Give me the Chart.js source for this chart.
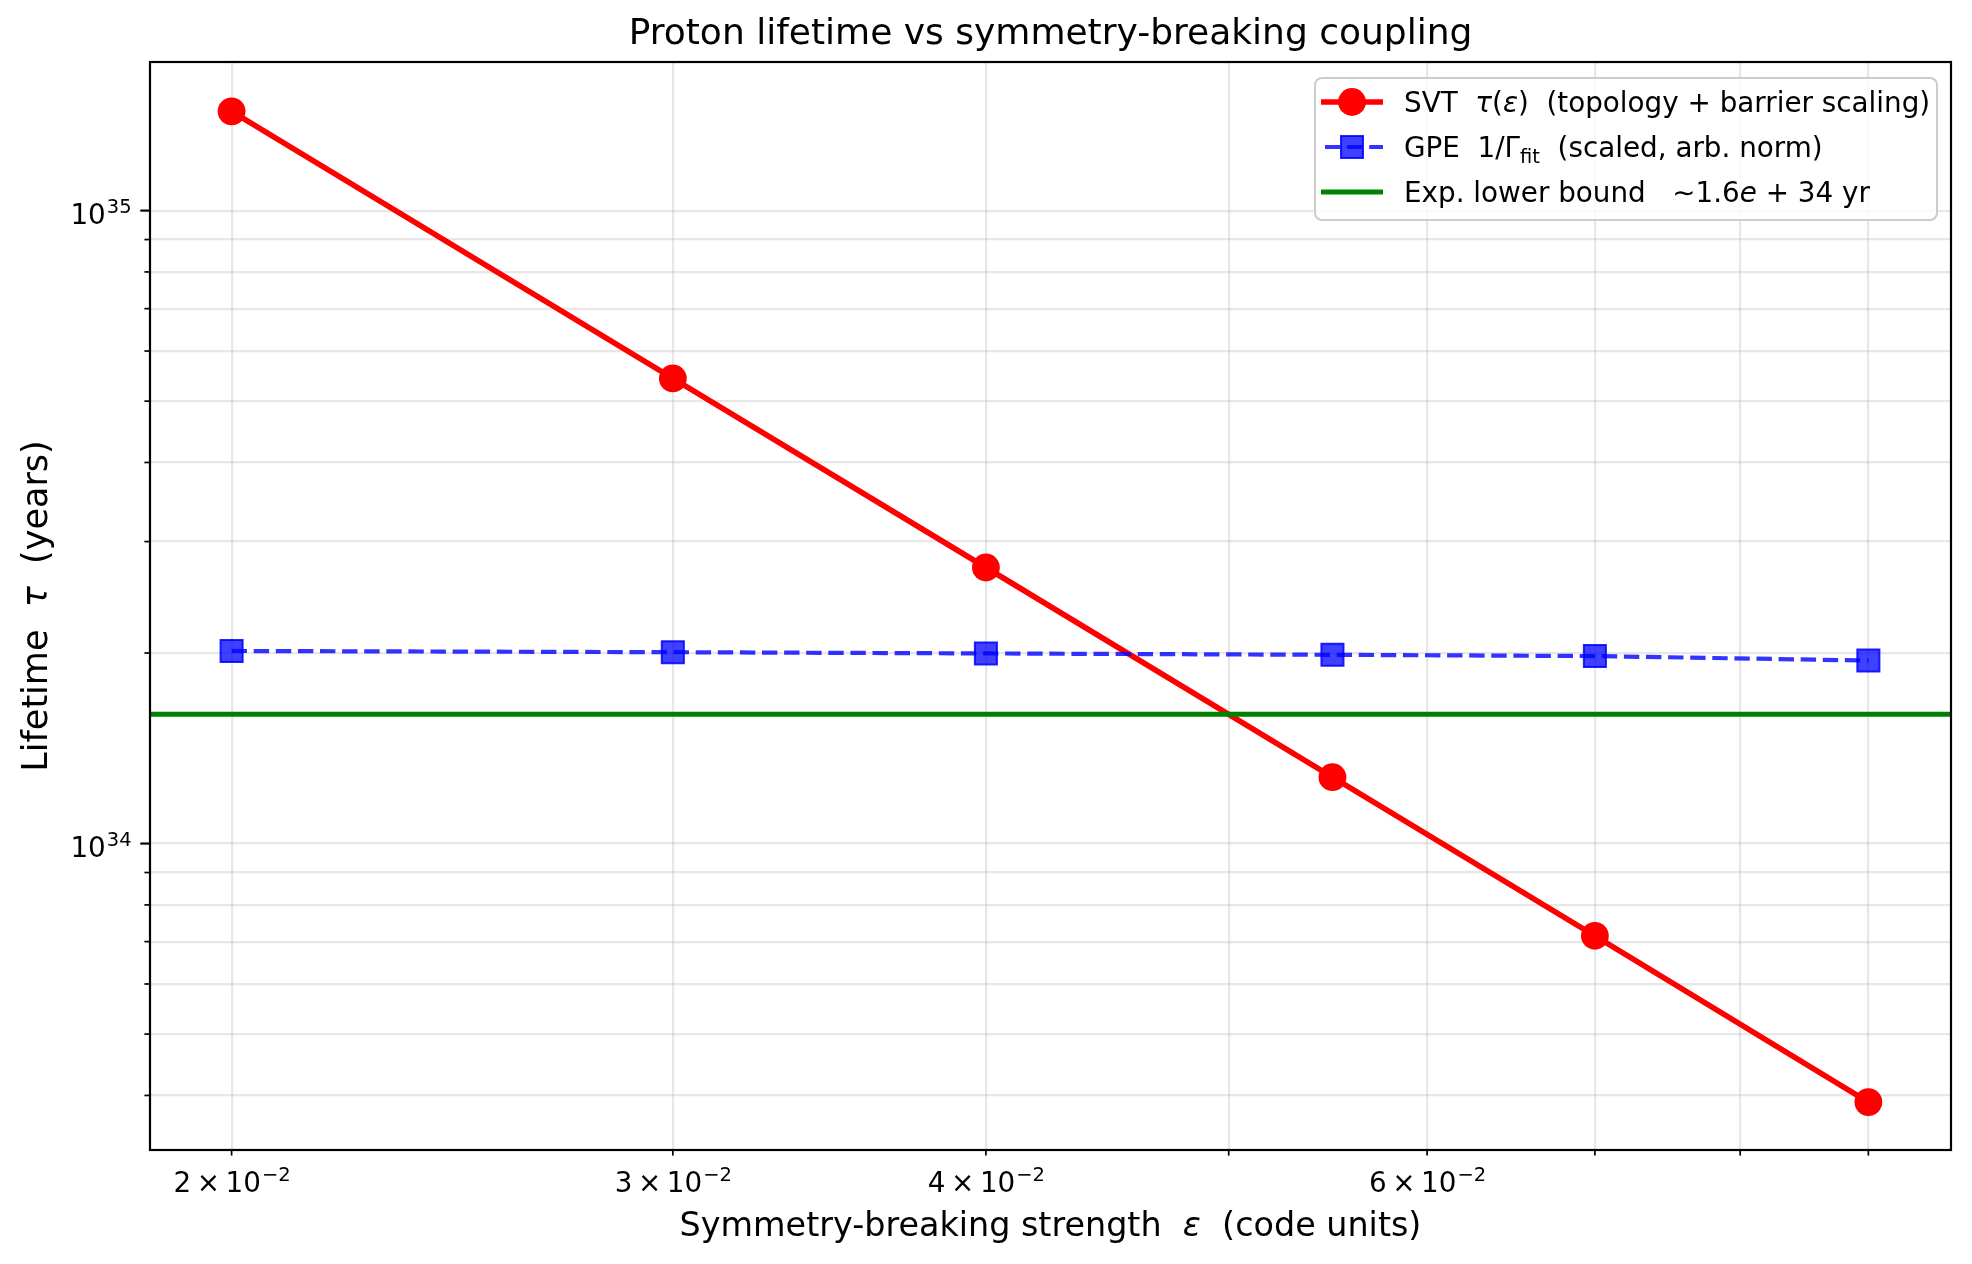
<!DOCTYPE html>
<html>
<head>
<meta charset="utf-8">
<script src="https://cdn.jsdelivr.net/npm/chart.js@4.4.0/dist/chart.umd.min.js"></script>
<style>
  html, body { margin: 0; padding: 0; background: #fff; }
  #wrap { position: relative; width: 1972px; height: 1264px; }
  #legend {
    position: absolute; left: 1314px; top: 77px; width: 624px; height: 144px;
    box-sizing: border-box; border: 2px solid #cccccc; border-radius: 8px;
    background: rgba(255,255,255,0.8);
    font-family: 'DejaVu Sans'; font-size: 27.8px; color: #000;
  }
  .row { position: absolute; left: 0; height: 44px; display: flex; align-items: center; white-space: pre; }
  .row svg { margin-left: 5px; margin-right: 21px; flex: none; }
  .row sub { font-size: 0.7em; vertical-align: -0.3em; line-height: 0; }
</style>
</head>
<body>
<div id="wrap">
  <canvas id="chart" width="1972" height="1264"></canvas>
  <div id="legend">
    <div class="row" style="top:1px">
      <svg width="62" height="30"><line x1="0" y1="15" x2="62" y2="15" stroke="#ff0000" stroke-width="5.6"/><circle cx="31" cy="15" r="13.9" fill="#ff0000"/></svg><span>SVT  <i>τ</i>(<i>ε</i>)  (topology + barrier scaling)</span>
    </div>
    <div class="row" style="top:46px">
      <svg width="62" height="30"><line x1="0" y1="15" x2="62" y2="15" stroke="rgba(0,0,255,0.8)" stroke-width="4.2" stroke-dasharray="15.4 6.7" stroke-dashoffset="-4"/><rect x="20" y="4" width="22" height="22" fill="rgba(0,0,255,0.75)" stroke="rgba(0,0,255,0.85)" stroke-width="2"/></svg><span>GPE  1/Γ<sub>fit</sub>  (scaled, arb. norm)</span>
    </div>
    <div class="row" style="top:91px">
      <svg width="62" height="30"><line x1="0" y1="15" x2="62" y2="15" stroke="#008000" stroke-width="5"/></svg><span>Exp. lower bound   ∼1.6<i>e</i> + 34 yr</span>
    </div>
  </div>
</div>
<script>
const epsilon = [0.02, 0.03, 0.04, 0.055, 0.07, 0.09];
const svtLifetime = [1.435e35, 5.43e34, 2.73e34, 1.273e34, 7.15e33, 3.905e33];
const gpeLifetime = [2.015e34, 2.006e34, 1.997e34, 1.987e34, 1.978e34, 1.946e34];
const expBound = 1.6e34;

const xRange = [0.018555, 0.0971];
const yRange = [3.28e33, 1.717e35];

const xTicks = [0.02, 0.03, 0.04, 0.05, 0.06, 0.07, 0.08, 0.09];
const xTickBase = ['2\u2009×\u200910', '3\u2009×\u200910', '4\u2009×\u200910', '', '6\u2009×\u200910', '', '', ''];
const xTickExp = ['−2', '−2', '−2', '', '−2', '', '', ''];
const yTicks = [4e33, 5e33, 6e33, 7e33, 8e33, 9e33, 1e34, 2e34, 3e34, 4e34, 5e34, 6e34, 7e34, 8e34, 9e34, 1e35];
const yTickBase = ['', '', '', '', '', '', '10', '', '', '', '', '', '', '', '', '10'];
const yTickExp = ['', '', '', '', '', '', '34', '', '', '', '', '', '', '', '', '35'];

const xTitle = [['Symmetry-breaking strength  ', false], ['ε', true], ['  (code units)', false]];
const yTitle = [['Lifetime  ', false], ['τ', true], ['  (years)', false]];

const FONT = 'DejaVu Sans';
const gridColor = 'rgba(176,176,176,0.3)';
const TICK_PX = 27.8, SUP_PX = 19.5, LABEL_PX = 33.4;

function font(px, italic) {
  return (italic ? 'italic ' : '') + px + 'px "' + FONT + '"';
}

// draw text runs (some italic) centred on (0,0) of the current transform
function drawRuns(ctx, runs, px) {
  const widths = runs.map(([t, it]) => { ctx.font = font(px, it); return ctx.measureText(t).width; });
  let x = -widths.reduce((a, b) => a + b, 0) / 2;
  runs.forEach(([t, it], i) => {
    ctx.font = font(px, it);
    ctx.fillText(t, x, 0);
    x += widths[i];
  });
}

// mantissa + superscript, anchored by align at baseline y
function drawPow(ctx, base, exp, x, y, align) {
  ctx.font = font(TICK_PX);
  const wb = ctx.measureText(base).width;
  ctx.font = font(SUP_PX);
  const we = ctx.measureText(exp).width;
  const w = wb + we;
  const x0 = align === 'right' ? x - w : x - w / 2;
  ctx.font = font(TICK_PX);
  ctx.fillText(base, x0, y);
  ctx.font = font(SUP_PX);
  ctx.fillText(exp, x0 + wb + 1, y - 11);
}

const axisDecor = {
  id: 'axisDecor',
  afterDraw(chart) {
    const { ctx, chartArea: a, scales: { x, y } } = chart;
    ctx.save();
    ctx.strokeStyle = '#000';
    ctx.fillStyle = '#000';
    ctx.textBaseline = 'alphabetic';
    ctx.textAlign = 'left';
    xTicks.forEach((v, i) => {
      const px = x.getPixelForValue(v);
      ctx.lineWidth = 1.7;
      ctx.beginPath(); ctx.moveTo(px, a.bottom); ctx.lineTo(px, a.bottom + 5.6); ctx.stroke();
      if (xTickBase[i]) drawPow(ctx, xTickBase[i], xTickExp[i], px, a.bottom + 42, 'center');
    });
    yTicks.forEach((v, i) => {
      const py = y.getPixelForValue(v);
      const major = yTickBase[i] !== '';
      ctx.lineWidth = major ? 2.2 : 1.7;
      ctx.beginPath(); ctx.moveTo(a.left, py); ctx.lineTo(a.left - (major ? 9.7 : 5.6), py); ctx.stroke();
      if (major) drawPow(ctx, yTickBase[i], yTickExp[i], a.left - 19.4, py + 13.5, 'right');
    });
    ctx.lineWidth = 2.2;
    ctx.strokeRect(a.left, a.top, a.right - a.left, a.bottom - a.top);

    ctx.textBaseline = 'middle';
    ctx.save();
    ctx.translate((a.left + a.right) / 2, 1227);
    drawRuns(ctx, xTitle, LABEL_PX);
    ctx.restore();
    ctx.save();
    ctx.translate(38, (a.top + a.bottom) / 2);
    ctx.rotate(-Math.PI / 2);
    drawRuns(ctx, yTitle, 35);
    ctx.restore();
    ctx.restore();
  }
};

new Chart(document.getElementById('chart'), {
  type: 'scatter',
  data: {
    datasets: [
      {
        label: 'SVT',
        data: epsilon.map((e, i) => ({ x: e, y: svtLifetime[i] })),
        showLine: true,
        borderColor: '#ff0000',
        borderWidth: 5.6,
        pointRadius: 13.9,
        pointHoverRadius: 13.9,
        pointBackgroundColor: '#ff0000',
        pointBorderWidth: 0,
        order: 3
      },
      {
        label: 'GPE',
        data: epsilon.map((e, i) => ({ x: e, y: gpeLifetime[i] })),
        showLine: true,
        borderColor: 'rgba(0,0,255,0.8)',
        borderWidth: 4.2,
        borderDash: [15.4, 6.7],
        pointStyle: 'rect',
        pointRadius: 15.6,
        pointHoverRadius: 15.6,
        pointBackgroundColor: 'rgba(0,0,255,0.75)',
        pointBorderColor: 'rgba(0,0,255,0.85)',
        pointBorderWidth: 2,
        order: 2
      },
      {
        label: 'Exp. lower bound',
        data: xRange.map(e => ({ x: e, y: expBound })),
        showLine: true,
        borderColor: '#008000',
        borderWidth: 5,
        pointRadius: 0,
        order: 1
      }
    ]
  },
  options: {
    responsive: false,
    animation: false,
    devicePixelRatio: 1,
    layout: { padding: { left: 0, right: 21, top: 0, bottom: 0 } },
    plugins: {
      legend: { display: false },
      tooltip: { enabled: false },
      title: {
        display: true,
        fullSize: false,
        text: 'Proton lifetime vs symmetry-breaking coupling',
        color: '#000',
        font: { family: FONT, size: 36, weight: 'normal' },
        padding: { top: 13, bottom: 5.8 }
      }
    },
    scales: {
      x: {
        type: 'logarithmic',
        min: xRange[0],
        max: xRange[1],
        afterBuildTicks: s => { s.ticks = xTicks.map(v => ({ value: v })); },
        afterFit: s => { s.height = 114; },
        border: { display: false },
        grid: { color: gridColor, lineWidth: 2.2, drawTicks: false },
        ticks: { display: false }
      },
      y: {
        type: 'logarithmic',
        min: yRange[0],
        max: yRange[1],
        afterBuildTicks: s => { s.ticks = yTicks.map(v => ({ value: v })); },
        afterFit: s => { s.width = 150; },
        border: { display: false },
        grid: { color: gridColor, lineWidth: 2.2, drawTicks: false },
        ticks: { display: false }
      }
    }
  },
  plugins: [axisDecor]
});
</script>
</body>
</html>
